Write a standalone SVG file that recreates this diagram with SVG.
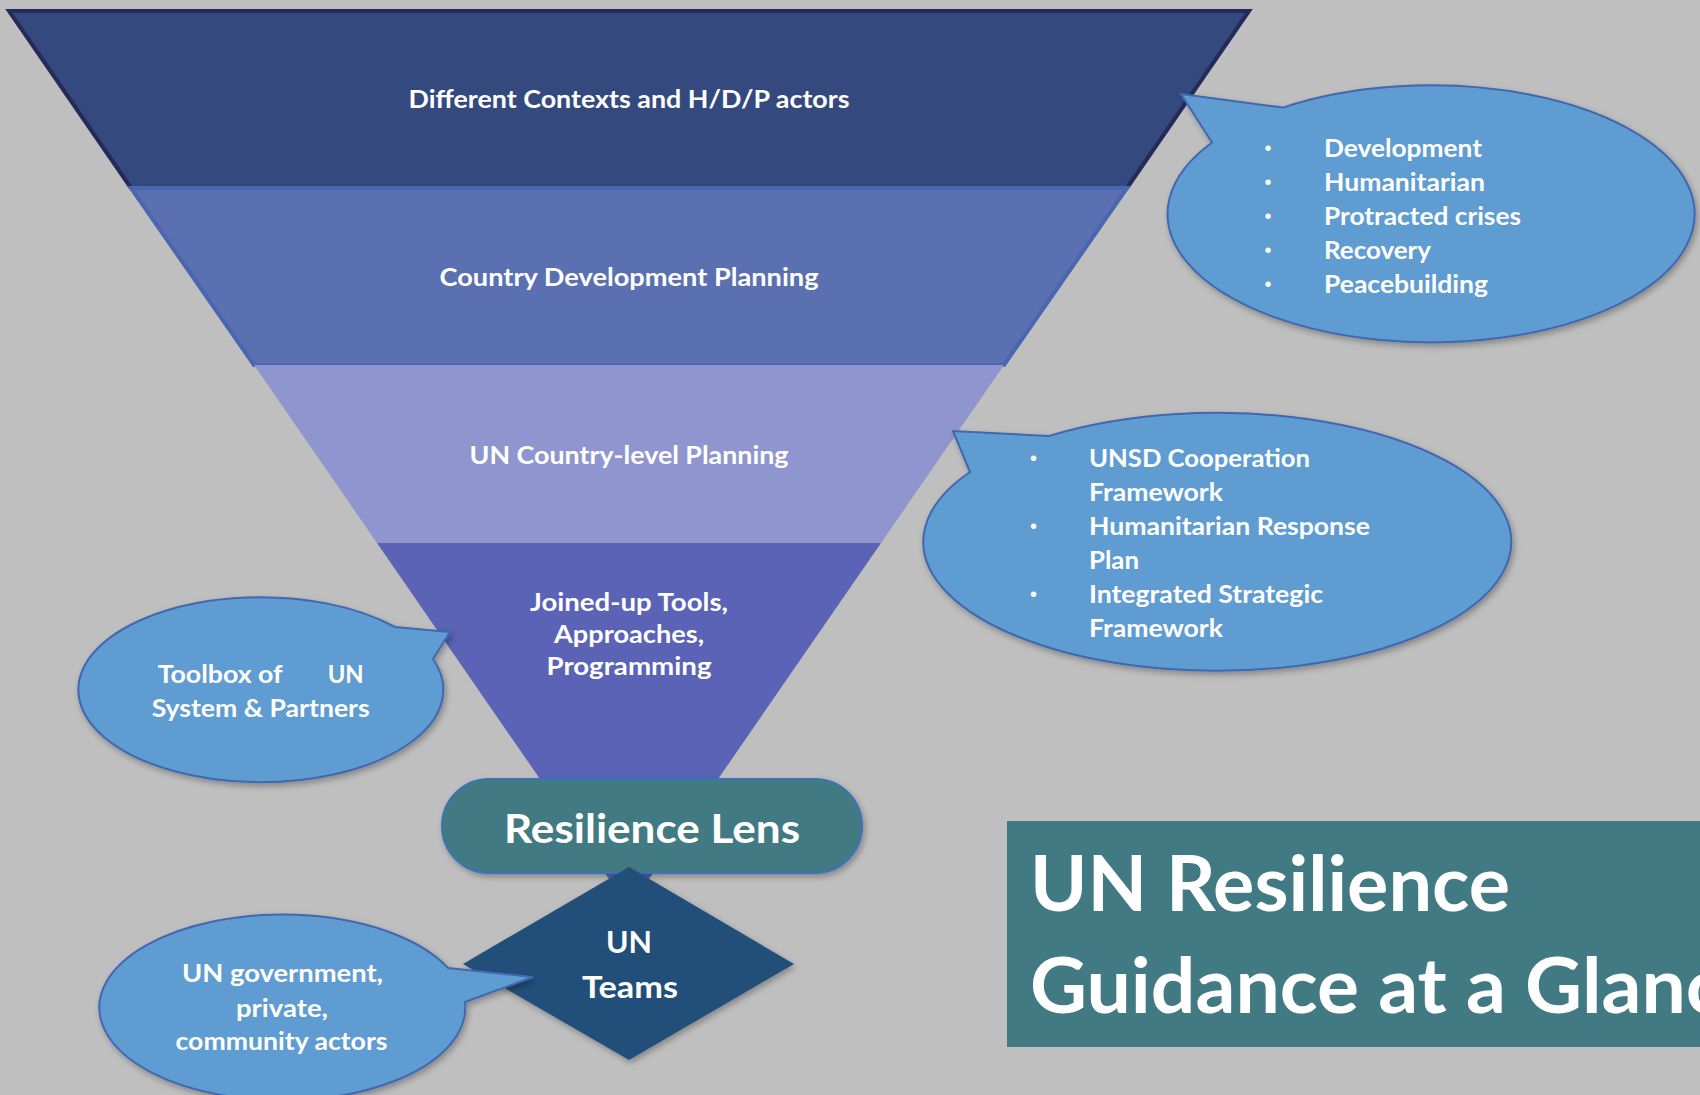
<svg xmlns="http://www.w3.org/2000/svg" width="1700" height="1095" viewBox="0 0 1700 1095">
<style>
.t{font-family:Lato,"Open Sans","Liberation Sans",sans-serif;font-weight:700;fill:#ffffff;font-size:25px}
.c{text-anchor:middle}
.b{font-family:"Liberation Sans",Arial,sans-serif;fill:#ffffff;font-size:20px;text-anchor:middle}
.callout{fill:#5F9CD2;stroke:#4168B0;stroke-width:2}
</style>
<defs>
<filter id="sh" x="-10%" y="-10%" width="125%" height="130%">
<feDropShadow dx="2" dy="3" stdDeviation="3" flood-color="#000" flood-opacity="0.3"/>
</filter>
</defs>
<rect width="1700" height="1095" fill="#BFBFBF"/>

<g id="funnel">
<g id="band1">
<polygon points="9,11 1249,11 1127,188 131,188" fill="#344A7E"/>
<polyline points="131,188 9,11 1249,11 1127,188" fill="none" stroke="#262A5A" stroke-width="4" stroke-linejoin="miter"/>
<text class="t c" x="629" y="108" textLength="441" lengthAdjust="spacingAndGlyphs">Different Contexts and H/D/P actors</text>
</g>
<g id="band2">
<polygon points="131,188 1127,188 1004,365 254,365" fill="#5A70B0" stroke="#4A66B0" stroke-width="4" stroke-linejoin="miter"/>
<text class="t c" x="629" y="286" textLength="379" lengthAdjust="spacingAndGlyphs">Country Development Planning</text>
</g>
<g id="band3">
<polygon points="254,365 1004,365 881,543 377,543" fill="#8F96CF"/>
<text class="t c" x="629" y="464" textLength="319" lengthAdjust="spacingAndGlyphs">UN Country-level Planning</text>
</g>
<g id="band4">
<polygon points="377,543 881,543 629,908" fill="#5B63B6"/>
<text class="t c" x="629" y="611" textLength="198" lengthAdjust="spacingAndGlyphs">Joined-up Tools,</text>
<text class="t c" x="629" y="643" textLength="150" lengthAdjust="spacingAndGlyphs">Approaches,</text>
<text class="t c" x="629" y="675" textLength="165" lengthAdjust="spacingAndGlyphs">Programming</text>
</g>
</g>

<g id="connectors"></g>

<g id="callout-contexts">
<path class="callout" filter="url(#sh)" d="M1283,107.6 L1181,94 L1212,142.5 A263.5,128.5 0 1 0 1283,107.6 Z"/>
<text class="b" x="1268" y="155">•</text>
<text class="b" x="1268" y="189">•</text>
<text class="b" x="1268" y="223">•</text>
<text class="b" x="1268" y="257">•</text>
<text class="b" x="1268" y="291">•</text>
<text class="t" x="1324" y="157" textLength="158" lengthAdjust="spacingAndGlyphs">Development</text>
<text class="t" x="1324" y="191" textLength="161" lengthAdjust="spacingAndGlyphs">Humanitarian</text>
<text class="t" x="1324" y="225" textLength="197" lengthAdjust="spacingAndGlyphs">Protracted crises</text>
<text class="t" x="1324" y="259" textLength="107" lengthAdjust="spacingAndGlyphs">Recovery</text>
<text class="t" x="1324" y="293" textLength="164" lengthAdjust="spacingAndGlyphs">Peacebuilding</text>
</g>

<g id="callout-frameworks">
<path class="callout" filter="url(#sh)" d="M1049,436 L953,431 L970,472 A294,129 0 1 0 1049,436 Z"/>
<text class="b" x="1033.6" y="465">•</text>
<text class="b" x="1033.6" y="533">•</text>
<text class="b" x="1033.6" y="601">•</text>
<text class="t" x="1089" y="467" textLength="221" lengthAdjust="spacingAndGlyphs">UNSD Cooperation</text>
<text class="t" x="1089" y="501" textLength="134" lengthAdjust="spacingAndGlyphs">Framework</text>
<text class="t" x="1089" y="535" textLength="281" lengthAdjust="spacingAndGlyphs">Humanitarian Response</text>
<text class="t" x="1089" y="569" textLength="50" lengthAdjust="spacingAndGlyphs">Plan</text>
<text class="t" x="1089" y="603" textLength="234" lengthAdjust="spacingAndGlyphs">Integrated Strategic</text>
<text class="t" x="1089" y="637" textLength="134" lengthAdjust="spacingAndGlyphs">Framework</text>
</g>

<g id="callout-toolbox">
<path class="callout" filter="url(#sh)" d="M395,627 L450,632 L433,659 A182.5,92.5 0 1 1 395,627 Z"/>
<text class="t" y="683"><tspan x="157.7" textLength="125" lengthAdjust="spacingAndGlyphs">Toolbox of</tspan><tspan x="327.7" textLength="36" lengthAdjust="spacingAndGlyphs">UN</tspan></text>
<text class="t" x="151.7" y="717" textLength="218" lengthAdjust="spacingAndGlyphs">System &amp; Partners</text>
</g>

<g id="resilience-lens">
<rect x="442" y="779" width="420" height="94" rx="47" ry="47" fill="#427A84" stroke="#3A73B8" stroke-width="2" filter="url(#sh)"/>
<text class="t" x="504" y="843" style="font-size:40px" textLength="296" lengthAdjust="spacingAndGlyphs">Resilience Lens</text>
</g>

<g id="un-teams">
<polygon points="629,867 794,964 629,1060 463,964" fill="#23507A" filter="url(#sh)"/>
<text class="t" x="606" y="953" style="font-size:30px" textLength="46" lengthAdjust="spacingAndGlyphs">UN</text>
<text class="t" x="582" y="998" style="font-size:30px" textLength="96" lengthAdjust="spacingAndGlyphs">Teams</text>
</g>

<g id="callout-actors">
<path class="callout" filter="url(#sh)" d="M448,968 L533,977 L465,1002 A183,93 0 1 1 448,968 Z"/>
<text class="t" x="182" y="982" textLength="201" lengthAdjust="spacingAndGlyphs">UN  government,</text>
<text class="t" x="236" y="1017" textLength="92" lengthAdjust="spacingAndGlyphs">private,</text>
<text class="t" x="175.5" y="1050" textLength="212" lengthAdjust="spacingAndGlyphs">community actors</text>
</g>

<g id="title">
<rect x="1007" y="821" width="700" height="226" fill="#427A84"/>
<text class="t" x="1030" y="911" style="font-size:76px" textLength="480" lengthAdjust="spacingAndGlyphs">UN Resilience</text>
<text class="t" x="1030" y="1013" style="font-size:76px" textLength="735" lengthAdjust="spacingAndGlyphs">Guidance at a Glance</text>
</g>
</svg>
